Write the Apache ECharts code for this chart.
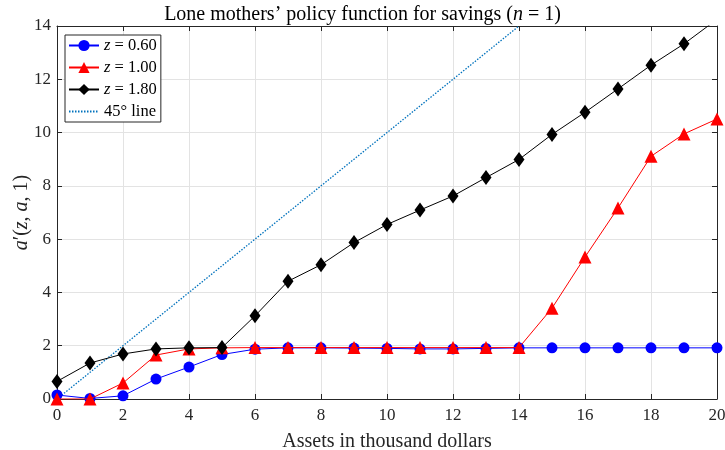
<!DOCTYPE html>
<html>
<head>
<meta charset="utf-8">
<script src="https://cdn.jsdelivr.net/npm/echarts@6/dist/echarts.min.js"></script>
<style>
  html, body { margin: 0; padding: 0; background: #fff; }
  #chart { width: 725px; height: 450px; }
</style>
</head>
<body>
<div id="chart"></div>
<script>
// Asset grid (thousand dollars)
const assets = [0,1,2,3,4,5,6,7,8,9,10,11,12,13,14,15,16,17,18,19,20];

// Savings policy a'(z, a, 1) for three productivity levels
const savingsLow  = [0.15,0.02,0.12,0.75,1.20,1.67,1.87,1.92,1.92,1.91,1.90,1.88,1.88,1.90,1.92,1.92,1.92,1.92,1.92,1.92,1.92];
const savingsMid  = [0.00,0.00,0.60,1.65,1.88,1.92,1.93,1.93,1.93,1.93,1.93,1.93,1.93,1.93,1.93,3.41,5.33,7.17,9.11,9.95,10.51];
const savingsHigh = [0.66,1.35,1.69,1.88,1.92,1.93,3.12,4.42,5.04,5.87,6.55,7.09,7.62,8.31,8.99,9.93,10.76,11.64,12.53,13.33,14.25];

// 45-degree reference line end points
const diagX = [0, 14];

// Tick labels
const xTicks = [0,2,4,6,8,10,12,14,16,18,20];
const yTicks = [0,2,4,6,8,10,12,14];

const serif = 'Liberation Serif';
const axisColor = '#262626';

const pairs = (xs, ys) => xs.map((x, i) => [x, ys[i]]);

const chart = echarts.init(document.getElementById('chart'), null, { renderer: 'canvas' });

const baseAxis = {
  type: 'value',
  axisLine: { show: true, onZero: false, lineStyle: { color: axisColor, width: 1 } },
  axisTick: { show: true, inside: true, length: 5, lineStyle: { color: axisColor } },
  axisLabel: { color: '#262626', fontFamily: serif, fontSize: 17 },
};

chart.setOption({
  animation: false,
  backgroundColor: '#ffffff',
  title: {
    text: 'Lone mothers’ policy function for savings ({i|n} = 1)',
    left: 'center',
    top: 0,
    textStyle: {
      fontFamily: serif, fontSize: 20, fontWeight: 'normal', color: '#000',
      rich: { i: { fontFamily: serif, fontStyle: 'italic', fontSize: 20, color: '#000' } }
    }
  },
  grid: { left: 57, right: 8, top: 26, bottom: 51, containLabel: false, outerBoundsMode: 'none' },
  legend: {
    orient: 'vertical',
    left: 65,
    top: 35,
    backgroundColor: '#fff',
    borderColor: '#262626',
    borderWidth: 1,
    borderRadius: 0,
    padding: [2, 4, 2, 3],
    itemGap: 5,
    itemWidth: 30,
    itemHeight: 14,
    textStyle: {
      fontFamily: serif, fontSize: 16.5, color: '#000',
      rich: {
        i: { fontFamily: serif, fontStyle: 'italic', fontSize: 16.5, color: '#000' },
        t: { fontFamily: serif, fontSize: 16.5, color: '#000' }
      }
    },
    formatter: function (name) {
      if (name.indexOf('z = ') === 0) return '{i|z} {t|= ' + name.slice(4) + '}';
      return name;
    },
    data: ['z = 0.60', 'z = 1.00', 'z = 1.80', { name: '45° line', itemStyle: { opacity: 0 } }]
  },
  xAxis: [
    Object.assign({}, baseAxis, {
      min: 0, max: 20, interval: 2,
      position: 'bottom',
      name: 'Assets in thousand dollars',
      nameLocation: 'middle',
      nameGap: 33,
      nameTextStyle: { fontFamily: serif, fontSize: 20, color: '#262626' },
      axisLabel: Object.assign({}, baseAxis.axisLabel, {
        margin: 8,
        customValues: xTicks
      }),
      axisTick: Object.assign({}, baseAxis.axisTick, { customValues: xTicks }),
      splitLine: { show: true, lineStyle: { color: '#e3e3e3', width: 1 } }
    }),
    Object.assign({}, baseAxis, {
      min: 0, max: 20, interval: 2,
      position: 'top',
      axisLabel: { show: false },
      splitLine: { show: false }
    })
  ],
  yAxis: [
    Object.assign({}, baseAxis, {
      min: 0, max: 14, interval: 2,
      position: 'left',
      name: '{i|a}′({i|z}, {i|a}, 1)',
      nameLocation: 'middle',
      nameGap: 25,
      nameMoveOverlap: false,
      nameRotate: 90,
      nameTextStyle: {
        fontFamily: serif, fontSize: 20, color: '#262626',
        rich: { i: { fontFamily: serif, fontStyle: 'italic', fontSize: 20, color: '#262626' } }
      },
      axisLabel: Object.assign({}, baseAxis.axisLabel, {
        margin: 6,
        customValues: yTicks
      }),
      axisTick: Object.assign({}, baseAxis.axisTick, { customValues: yTicks }),
      splitLine: { show: true, lineStyle: { color: '#e3e3e3', width: 1 } }
    }),
    Object.assign({}, baseAxis, {
      min: 0, max: 14, interval: 2,
      position: 'right',
      axisLabel: { show: false },
      splitLine: { show: false }
    })
  ],
  series: [
    {
      name: '45° line',
      type: 'line',
      data: pairs(diagX, diagX),
      symbol: 'none',
      lineStyle: { color: '#0072BD', width: 1.3, type: [1.5, 1.5] },
      itemStyle: { color: '#0072BD' },
      z: 1
    },
    {
      name: 'z = 0.60',
      type: 'line',
      data: pairs(assets, savingsLow),
      symbol: 'circle',
      symbolSize: 11,
      lineStyle: { color: '#0000ff', width: 1 },
      itemStyle: { color: '#0000ff' },
      z: 2
    },
    {
      name: 'z = 1.00',
      type: 'line',
      data: pairs(assets, savingsMid),
      symbol: 'triangle',
      symbolSize: 13,
      lineStyle: { color: '#ff0000', width: 1 },
      itemStyle: { color: '#ff0000' },
      z: 3
    },
    {
      name: 'z = 1.80',
      type: 'line',
      data: pairs(assets, savingsHigh),
      symbol: 'diamond',
      symbolSize: [11, 15],
      lineStyle: { color: '#000000', width: 1 },
      itemStyle: { color: '#000000' },
      z: 4
    }
  ]
});
</script>
</body>
</html>
